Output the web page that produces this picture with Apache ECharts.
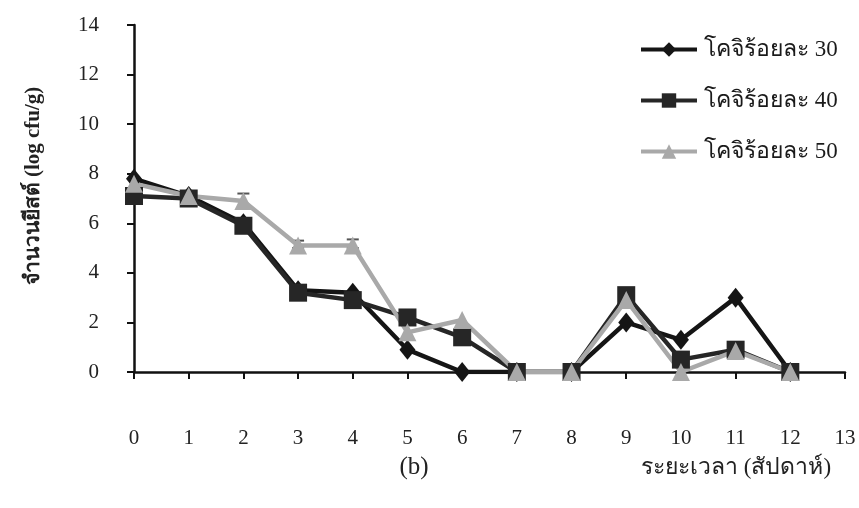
<!DOCTYPE html>
<html>
<head>
<meta charset="utf-8">
<script src="https://cdn.jsdelivr.net/npm/echarts@6/dist/echarts.min.js"></script>
<style>
  html, body { margin: 0; padding: 0; background: #ffffff; }
  #chart { width: 859px; height: 508px; }
</style>
</head>
<body>
<div id="chart"></div>
<script>
// Weeks of storage
const weeks = [0, 1, 2, 3, 4, 5, 6, 7, 8, 9, 10, 11, 12];
// Yeast counts (log cfu/g) for each koji level
const koji30 = [7.8, 7.1, 6.0, 3.3, 3.2, 0.9, 0.0, 0.0, 0.0, 2.0, 1.3, 3.0, 0.0];
const koji40 = [7.1, 7.0, 5.9, 3.2, 2.9, 2.2, 1.4, 0.0, 0.0, 3.1, 0.5, 0.9, 0.0];
const koji50 = [7.6, 7.1, 6.9, 5.1, 5.1, 1.6, 2.1, 0.0, 0.0, 2.9, 0.0, 0.85, 0.0];
// Error bars on the 50% series: [week, low, high]
const koji50Err = [[2, 6.7, 7.2], [3, 5.0, 5.3], [4, 5.0, 5.35]];
const seriesNames = ['โคจิร้อยละ 30', 'โคจิร้อยละ 40', 'โคจิร้อยละ 50'];

const serif = '"Liberation Serif", "DejaVu Serif", serif';
const chart = echarts.init(document.getElementById('chart'));

const pair = (xs, ys) => xs.map((x, i) => [x, ys[i]]);

chart.setOption({
  backgroundColor: '#ffffff',
  animation: false,
  grid: { left: 134, right: 14, top: 25, bottom: 136 },
  legend: {
    orient: 'vertical',
    left: 634,
    top: 33,
    itemGap: 28,
    itemWidth: 56,
    itemHeight: 18,
    data: seriesNames,
    lineStyle: { width: 4 },
    textStyle: { fontFamily: serif, fontSize: 23, color: '#1a1a1a', padding: [0, 0, 0, 2] }
  },
  xAxis: {
    type: 'value',
    min: 0, max: 13, interval: 1,
    axisLine: { onZero: false, lineStyle: { color: '#111', width: 2.5 } },
    axisTick: { show: true, length: 7, lineStyle: { color: '#111', width: 2 } },
    splitLine: { show: false },
    axisLabel: { margin: 56, fontFamily: serif, fontSize: 21, color: '#222' }
  },
  yAxis: {
    type: 'value',
    min: 0, max: 14, interval: 2,
    axisLine: { show: true, lineStyle: { color: '#111', width: 2.5 } },
    axisTick: { show: true, length: 7, lineStyle: { color: '#111', width: 2 } },
    splitLine: { show: false },
    axisLabel: { margin: 35, fontFamily: serif, fontSize: 21, color: '#222' }
  },
  graphic: [
    { type: 'text', x: 34, y: 186, rotation: Math.PI / 2,
      style: { text: 'จำนวนยีสต์ (log cfu/g)', font: 'bold 21px ' + serif, fill: '#222',
               align: 'center', verticalAlign: 'middle' } },
    { type: 'text', x: 414, y: 467,
      style: { text: '(b)', font: '25px ' + serif, fill: '#222', align: 'center', verticalAlign: 'middle' } },
    { type: 'text', x: 641, y: 468,
      style: { text: 'ระยะเวลา (สัปดาห์)', font: '23px ' + serif, fill: '#222', align: 'left', verticalAlign: 'middle' } }
  ],
  series: [
    {
      name: seriesNames[0], type: 'line', data: pair(weeks, koji30),
      symbol: 'diamond', symbolSize: [16, 20],
      lineStyle: { color: '#151515', width: 4.5 },
      itemStyle: { color: '#151515' }
    },
    {
      name: seriesNames[1], type: 'line', data: pair(weeks, koji40),
      symbol: 'rect', symbolSize: 18,
      lineStyle: { color: '#262626', width: 4.5 },
      itemStyle: { color: '#262626' }
    },
    {
      name: seriesNames[2], type: 'line', data: pair(weeks, koji50),
      symbol: 'triangle', symbolSize: 18,
      lineStyle: { color: '#a9a9a9', width: 4.5 },
      itemStyle: { color: '#a9a9a9' }
    },
    {
      type: 'custom',
      data: koji50Err,
      z: 1,
      renderItem: function (params, api) {
        const x = api.value(0);
        const lo = api.coord([x, api.value(1)]);
        const hi = api.coord([x, api.value(2)]);
        const w = 6;
        const st = { stroke: '#555', lineWidth: 2 };
        return {
          type: 'group',
          children: [
            { type: 'line', shape: { x1: lo[0], y1: lo[1], x2: hi[0], y2: hi[1] }, style: st },
            { type: 'line', shape: { x1: hi[0] - w, y1: hi[1], x2: hi[0] + w, y2: hi[1] }, style: st },
            { type: 'line', shape: { x1: lo[0] - w, y1: lo[1], x2: lo[0] + w, y2: lo[1] }, style: st }
          ]
        };
      }
    }
  ]
});
</script>
</body>
</html>
